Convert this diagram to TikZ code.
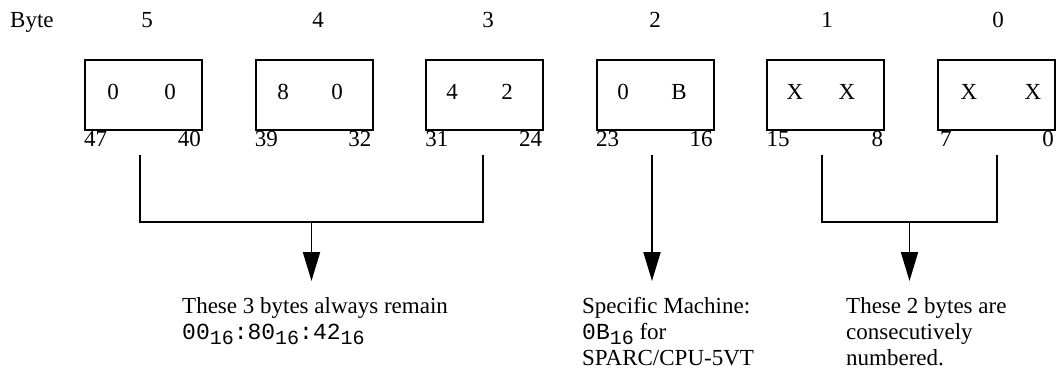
\documentclass[tikz,border=0pt]{standalone}
\usepackage{fontspec}
\setmainfont{Liberation Serif}
\setmonofont{Liberation Mono}
\usetikzlibrary{arrows.meta}
\newcommand{\hexsub}[1]{\raisebox{-5pt}{\fontsize{20}{20}\selectfont\ttfamily #1}}
\begin{document}
\begin{tikzpicture}[x=1pt,y=-1pt, font=\fontsize{23}{25}\selectfont,
  bytebox/.style={draw, line width=1.9pt, minimum width=117pt, minimum height=70pt, inner sep=0pt, anchor=north west},
  txt/.style={inner sep=0pt, anchor=base},
  lbl/.style={inner sep=0pt, anchor=base west},
  lble/.style={inner sep=0pt, anchor=base east},
  conn/.style={line width=1.9pt},
  arr/.style={line width=1.9pt, -{Triangle[length=29pt,width=17pt]}}]
\useasboundingbox (0,0) rectangle (1059,371);

% header
\node[lbl] (bytelbl) at (10,28) {Byte};
\node[txt] (n5) at (147,28) {5};
\node[txt] (n4) at (318,28) {4};
\node[txt] (n3) at (488,28) {3};
\node[txt] (n2) at (655,28) {2};
\node[txt] (n1) at (827,28) {1};
\node[txt] (n0) at (998,28) {0};

% boxes
\node[bytebox] (b5) at (84,59) {};
\node[bytebox] (b4) at (254.6,59) {};
\node[bytebox] (b3) at (425.2,59) {};
\node[bytebox] (b2) at (595.8,59) {};
\node[bytebox] (b1) at (766.4,59) {};
\node[bytebox] (b0) at (937,59) {};

% contents
\node[txt] (d5a) at (113,100) {0};
\node[txt] (d5b) at (170,100) {0};
\node[txt] (d4a) at (283,100) {8};
\node[txt] (d4b) at (337,100) {0};
\node[txt] (d3a) at (452,100) {4};
\node[txt] (d3b) at (507,100) {2};
\node[txt] (d2a) at (623,100) {0};
\node[txt] (d2b) at (679,100) {B};
\node[txt] (d1a) at (795,100) {X};
\node[txt] (d1b) at (847,100) {X};
\node[txt] (d0a) at (969,100) {X};
\node[txt] (d0b) at (1033,100) {X};

% bit numbers
\node[lbl]  (l47) at (84,147) {47};
\node[lble] (l40) at (201,147) {40};
\node[lbl]  (l39) at (254.6,147) {39};
\node[lble] (l32) at (371.6,147) {32};
\node[lbl]  (l31) at (425.2,147) {31};
\node[lble] (l24) at (542.2,147) {24};
\node[lbl]  (l23) at (595.8,147) {23};
\node[lble] (l16) at (712.8,147) {16};
\node[lbl]  (l15) at (766.4,147) {15};
\node[lble] (l8)  at (883.4,147) {8};
\node[lbl]  (l7)  at (940,147) {7};
\node[lble] (l0)  at (1054,147) {0};

% connectors
\coordinate (s5) at (140,155);
\coordinate (s3) at (483,155);
\coordinate (k5) at (140,222);
\coordinate (k3) at (483,222);
\coordinate (m1) at (311.5,222);
\coordinate (t1) at (311.5,281);
\draw[conn] (s5) -- (k5) -- (k3) -- (s3);
\draw[arr] (m1) -- (t1);

\coordinate (s2) at (652,155);
\coordinate (t2) at (652,281);
\draw[arr] (s2) -- (t2);

\coordinate (s1) at (822,155);
\coordinate (s0) at (997,155);
\coordinate (k1) at (822,222);
\coordinate (k0) at (997,222);
\coordinate (m3) at (909.5,222);
\coordinate (t3) at (909.5,281);
\draw[conn] (s1) -- (k1) -- (k0) -- (s0);
\draw[arr] (m3) -- (t3);

% captions
\node[lbl] (c1a) at (182,313) {These 3 bytes always remain};
\node[lbl] (c1b) at (182,339) {\ttfamily 00\hexsub{16}:80\hexsub{16}:42\hexsub{16}};
\node[lbl] (c2a) at (582,313) {Specific Machine:};
\node[lbl] (c2b) at (582,339) {\texttt{0B}\hexsub{16} for};
\node[lbl] (c2c) at (582,365) {SPARC/CPU-5VT};
\node[lbl] (c3a) at (846,313) {These 2 bytes are};
\node[lbl] (c3b) at (846,339) {consecutively};
\node[lbl] (c3c) at (846,365) {numbered.};
\end{tikzpicture}
\end{document}
